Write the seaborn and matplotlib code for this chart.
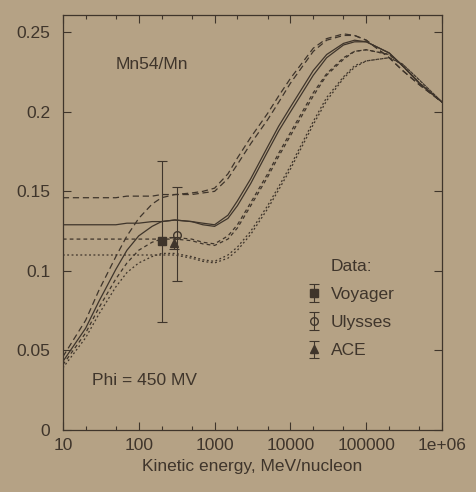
import numpy as np
import pandas as pd
import matplotlib
matplotlib.use("Agg")
import matplotlib.pyplot as plt
import seaborn as sns
from matplotlib.ticker import FixedLocator, FixedFormatter, LogLocator, NullFormatter

# ---------------- data ----------------
energy = [10, 20, 30, 50, 70, 100, 150, 200, 300, 500, 700, 1000, 1500, 2000, 3000,
          5000, 7000, 10000, 20000, 30000, 50000, 70000, 100000, 200000, 300000, 500000, 1000000]

# modulated (flat at low energy)
mod_dashed = [0.146, 0.146, 0.146, 0.146, 0.147, 0.147, 0.147, 0.148, 0.148, 0.148, 0.149, 0.150, 0.158, 0.167, 0.180,
              0.195, 0.206, 0.218, 0.238, 0.245, 0.248, 0.248, 0.245, 0.234, 0.226, 0.217, 0.206]
mod_solid = [0.129, 0.129, 0.129, 0.129, 0.130, 0.130, 0.131, 0.131, 0.132, 0.131, 0.129, 0.128, 0.133, 0.141, 0.155,
             0.175, 0.188, 0.200, 0.223, 0.234, 0.242, 0.244, 0.244, 0.237, 0.229, 0.218, 0.206]
mod_short = [0.120, 0.120, 0.120, 0.120, 0.120, 0.120, 0.120, 0.120, 0.120, 0.119, 0.117, 0.116, 0.120, 0.127, 0.141,
             0.159, 0.172, 0.185, 0.210, 0.223, 0.233, 0.238, 0.239, 0.236, 0.229, 0.218, 0.206]
mod_dotted = [0.110, 0.110, 0.110, 0.110, 0.110, 0.110, 0.110, 0.110, 0.110, 0.108, 0.106, 0.105, 0.108, 0.113, 0.123,
              0.139, 0.151, 0.164, 0.192, 0.207, 0.221, 0.228, 0.232, 0.234, 0.230, 0.220, 0.206]

# unmodulated (rising from low energy)
lis_dashed = [0.046, 0.069, 0.088, 0.109, 0.122, 0.133, 0.142, 0.146, 0.148, 0.149, 0.150, 0.152, 0.161, 0.171, 0.184,
              0.199, 0.210, 0.221, 0.240, 0.246, 0.249, 0.248, 0.245, 0.234, 0.226, 0.217, 0.206]
lis_solid = [0.043, 0.064, 0.081, 0.101, 0.113, 0.122, 0.128, 0.131, 0.132, 0.131, 0.130, 0.129, 0.135, 0.144, 0.158,
             0.178, 0.191, 0.203, 0.226, 0.236, 0.243, 0.245, 0.244, 0.237, 0.229, 0.218, 0.206]
lis_short = [0.041, 0.061, 0.077, 0.095, 0.105, 0.113, 0.118, 0.120, 0.121, 0.120, 0.118, 0.117, 0.122, 0.129, 0.143,
             0.161, 0.174, 0.187, 0.212, 0.224, 0.234, 0.238, 0.239, 0.236, 0.229, 0.218, 0.206]
lis_dotted = [0.039, 0.058, 0.073, 0.090, 0.099, 0.105, 0.109, 0.111, 0.111, 0.109, 0.107, 0.106, 0.110, 0.115, 0.125,
              0.141, 0.153, 0.166, 0.194, 0.209, 0.222, 0.229, 0.232, 0.234, 0.230, 0.220, 0.206]

# measurements
exp_names = ["Voyager", "Ulysses", "ACE"]
exp_energy = [200, 320, 290]
exp_ratio = [0.119, 0.1225, 0.1175]
exp_err_lo = [0.051, 0.029, 0.004]
exp_err_hi = [0.050, 0.030, 0.004]

ytick_vals = [0, 0.05, 0.1, 0.15, 0.2, 0.25]
ytick_labels = ["0", "0.05", "0.1", "0.15", "0.2", "0.25"]
xtick_vals = [10, 100, 1000, 10000, 100000, 1000000]
xtick_labels = ["10", "100", "1000", "10000", "100000", "1e+06"]

# ---------------- style ----------------
bg = "#b5a285"
ink = "#3f352b"
sns.set_theme(style="ticks")
plt.rcParams["font.family"] = ["Liberation Sans", "DejaVu Sans"]

fig = plt.figure(figsize=(4.76, 4.92), dpi=100, facecolor=bg)
ax = fig.add_axes([0.132, 0.126, 0.797, 0.844], facecolor=bg)

styles = {
    "mod_dashed": (mod_dashed, (5, 3)),
    "lis_dashed": (lis_dashed, (5, 3)),
    "mod_solid": (mod_solid, ""),
    "lis_solid": (lis_solid, ""),
    "mod_short": (mod_short, (3, 2.5)),
    "lis_short": (lis_short, (3, 2.5)),
    "mod_dotted": (mod_dotted, (1.5, 2)),
    "lis_dotted": (lis_dotted, (1.5, 2)),
}
rows = []
for name, (vals, _) in styles.items():
    for e, v in zip(energy, vals):
        rows.append({"energy": e, "ratio": v, "curve": name})
df = pd.DataFrame(rows)

sns.lineplot(data=df, x="energy", y="ratio", style="curve",
             dashes={k: s[1] for k, s in styles.items()},
             color=ink, linewidth=0.9, ax=ax, legend=False, estimator=None)

ax.set_xscale("log")
ax.set_xlim(10, 1e6)
ax.set_ylim(0, 0.261)

# data points
markers = ["s", "o", "^"]
handles = []
for i, nm in enumerate(exp_names):
    mfc = ink if markers[i] != "o" else "none"
    h = ax.errorbar([exp_energy[i]], [exp_ratio[i]],
                    yerr=[[exp_err_lo[i]], [exp_err_hi[i]]],
                    fmt=markers[i], ms=5.5, mfc=mfc, mec=ink, ecolor=ink,
                    elinewidth=0.8, capsize=3.5, capthick=0.8, label=nm)
    handles.append(h)

leg = ax.legend(handles=handles, title="Data:", loc="upper left",
                bbox_to_anchor=(0.605, 0.45), frameon=False, fontsize=12.5,
                title_fontsize=12.5, handlelength=0.7, handletextpad=0.6,
                labelspacing=0.75, labelcolor=ink)
leg.get_title().set_color(ink)
leg._legend_box.align = "center"

ax.text(50, 0.227, "Mn54/Mn", fontsize=12.5, color=ink)
ax.text(24, 0.028, "Phi = 450 MV", fontsize=12.5, color=ink)

ax.yaxis.set_major_locator(FixedLocator(ytick_vals))
ax.yaxis.set_major_formatter(FixedFormatter(ytick_labels))
ax.xaxis.set_major_locator(FixedLocator(xtick_vals))
ax.xaxis.set_major_formatter(FixedFormatter(xtick_labels))
ax.xaxis.set_minor_locator(LogLocator(base=10, subs=[2, 5]))
ax.xaxis.set_minor_formatter(NullFormatter())

ax.tick_params(which="both", direction="in", top=True, right=True, colors=ink,
               labelcolor=ink, labelsize=12.5, width=0.8)
ax.tick_params(which="major", length=6)
ax.tick_params(which="minor", length=3)
ax.tick_params(axis="x", pad=6)
ax.tick_params(axis="y", pad=9)
for s in ax.spines.values():
    s.set_color(ink)
    s.set_linewidth(0.9)

ax.set_xlabel("Kinetic energy, MeV/nucleon", fontsize=12.5, color=ink, labelpad=4)
ax.set_ylabel("")

fig.savefig("out.png", dpi=100, facecolor=bg)
